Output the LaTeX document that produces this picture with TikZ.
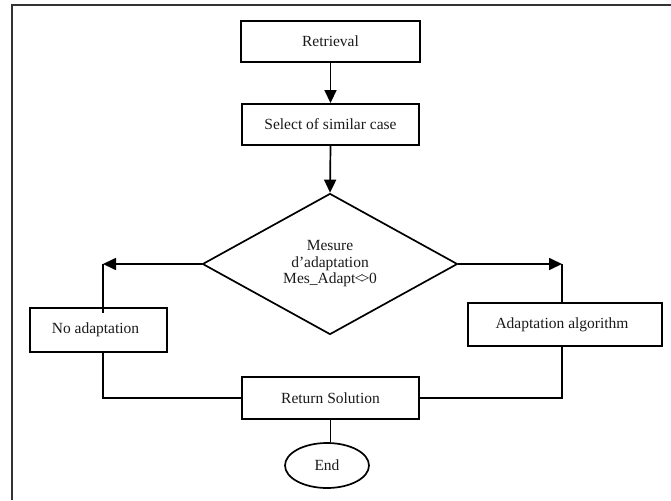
\documentclass[tikz,border=0pt]{standalone}
\usepackage{fontspec}
\setmainfont{Liberation Serif}
\usetikzlibrary{shapes.geometric,arrows.meta}
\begin{document}
\begin{tikzpicture}[x=1pt,y=-1pt,
  every node/.style={font=\fontsize{15.5}{18}\selectfont, text=black!90},
  box/.style={draw, line width=1.9pt, rectangle, inner sep=0pt},
  conn/.style={line width=1.7pt},
  arr/.style={conn, -{Triangle[length=13pt,width=12pt]}}]
\useasboundingbox (0,0) rectangle (671,500);
% frame
\draw[line width=2.8pt, black!80] (671,5) -- (12,5) -- (12,500);
% nodes
\node[box, minimum width=179pt, minimum height=41pt] (ret) at (330.5,41.5) {Retrieval};
\node[box, minimum width=177pt, minimum height=41pt] (sel) at (330.5,124.5) {Select of similar case};
\node[draw, diamond, line width=1.7pt, minimum width=255pt, minimum height=141pt, inner sep=0pt,
      align=center] (dia) at (330,264) {Mesure\\[-1pt]d’adaptation\\[-2pt]Mes\_Adapt\kern-1pt<\kern-2.5pt>\kern-0.5pt0};
\node[box, minimum width=137pt, minimum height=44pt] (noad) at (98.5,330) {\kern-6pt No adaptation};
\node[box, minimum width=194pt, minimum height=43pt] (adapt) at (565,324.5) {\kern-6pt Adaptation algorithm};
\node[box, minimum width=177pt, minimum height=42pt] (rs) at (330.5,398) {Return Solution};
\node[draw, ellipse, line width=1.7pt, minimum width=84pt, minimum height=45pt, inner sep=0pt] (end) at (327,465.5) {End};
\coordinate (cl) at (103,264);
\coordinate (cr) at (562,264);
% connectors
\draw[arr] (ret.south) -- (sel.north);
\draw[arr] (sel.south) -- (dia.north);
\draw[arr] (dia.west) -- (cl);
\draw[conn] (cl) -- ([yshift=-6pt]cl |- noad.north);
\draw[arr] (dia.east) -- (cr);
\draw[conn] (cr) -- (cr |- adapt.north);
\draw[conn] (cl |- noad.south) -- (cl |- rs.west) -- (rs.west);
\draw[conn] (cr |- adapt.south) -- (cr |- rs.east) -- (rs.east);
\draw[conn] (rs.south) -- (rs.south |- end.north);
\end{tikzpicture}
\end{document}
